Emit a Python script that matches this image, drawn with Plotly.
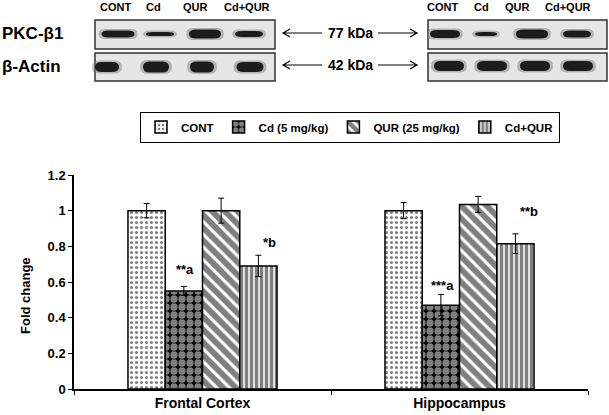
import plotly.graph_objects as go

# bar chart data
categories = ["Frontal Cortex", "Hippocampus"]
groups = ["CONT", "Cd (5 mg/kg)", "QUR (25 mg/kg)", "Cd+QUR"]
cont = [1.0, 1.0]
cd = [0.55, 0.47]
qur = [1.0, 1.035]
cd_qur = [0.69, 0.815]
cont_err = [0.04, 0.045]
cd_err = [0.025, 0.06]
qur_err = [0.07, 0.045]
cd_qur_err = [0.06, 0.055]
sig_labels = ["**a", "*b", "***a", "**b"]

# western blot panel
lanes = ["CONT", "Cd", "QUR", "Cd+QUR"]
pkc_left = [7, 4, 9, 6]      # band thickness as seen in blot
pkc_right = [8, 4, 9, 7]
actin_left = [10, 11, 11, 10]
actin_right = [10, 10, 10, 10]

W, H = 609, 415
FONT = "Liberation Sans, Arial, sans-serif"


def X(p):
    return p / W


def Y(p):
    return 1 - p / H


def band_path(cx, cy, w, h):
    x0, x1 = cx - w / 2, cx + w / 2
    y0, y1 = cy - h / 2, cy + h / 2
    r = min(7, w / 3)
    return (f"M {X(x0)},{Y(cy)} Q {X(x0)},{Y(y0)} {X(x0 + r)},{Y(y0)} "
            f"L {X(x1 - r)},{Y(y0)} Q {X(x1)},{Y(y0)} {X(x1)},{Y(cy)} "
            f"Q {X(x1)},{Y(y1)} {X(x1 - r)},{Y(y1)} L {X(x0 + r)},{Y(y1)} "
            f"Q {X(x0)},{Y(y1)} {X(x0)},{Y(cy)} Z")


def bold(size):
    return dict(size=size, family=FONT, color="black", weight="bold")


fig = go.Figure()

patterns = [
    dict(shape=".", size=5, solidity=0.3, fgcolor="black", bgcolor="white"),
    dict(shape=".", size=8, solidity=0.65, fgcolor="white", bgcolor="black"),
    dict(shape="\\", size=9, solidity=0.65, fgcolor="black", bgcolor="white"),
    dict(shape="|", size=5, solidity=0.7, fgcolor="black", bgcolor="white"),
]
series = [cont, cd, qur, cd_qur]
errors = [cont_err, cd_err, qur_err, cd_qur_err]

for name, vals, errs, pat in zip(groups, series, errors, patterns):
    fig.add_trace(go.Bar(
        x=categories, y=vals, name=name,
        marker=dict(color="white", pattern=pat, line=dict(color="black", width=1.5)),
        error_y=dict(type="data", array=errs, color="black", thickness=1, width=3),
    ))

annotations = []
# significance letters (x in category index units)
for txt, xv, yv in zip(sig_labels, [-0.07, 0.26, 0.935, 1.27], [0.67, 0.82, 0.58, 0.995]):
    annotations.append(dict(x=xv, y=yv, xref="x", yref="y", text=txt, showarrow=False,
                            xanchor="center", font=bold(13)))

annotations.append(dict(x=X(25), y=Y(296), xref="paper", yref="paper", text="Fold change",
                        textangle=-90, showarrow=False, xanchor="center", yanchor="middle",
                        font=bold(13)))

shapes = []
# blot frames
for bx0, bx1 in [(95, 275), (428, 607)]:
    for by0, by1 in [(20, 49), (53, 81)]:
        shapes.append(dict(type="rect", xref="paper", yref="paper",
                           x0=X(bx0), x1=X(bx1), y0=Y(by1), y1=Y(by0),
                           fillcolor="#e6e6e6", line=dict(color="#333333", width=1.5), layer="below"))

blots = [
    ([118, 160, 205, 249], 34, pkc_left, [33, 28, 32, 28]),
    ([107, 156, 202, 250], 67, actin_left, [24, 26, 24, 27]),
    ([445, 486, 532, 577], 34, pkc_right, [30, 22, 32, 28]),
    ([449, 492, 535, 578], 66, actin_right, [30, 30, 30, 30]),
]
for centers, cy, thick, widths in blots:
    for cx, h, w in zip(centers, thick, widths):
        shapes.append(dict(type="path", xref="paper", yref="paper", path=band_path(cx, cy, w + 6, h + 3),
                           fillcolor="#777777", line=dict(width=0), opacity=0.45))
        shapes.append(dict(type="path", xref="paper", yref="paper", path=band_path(cx, cy, w, h),
                           fillcolor="#1c1c1c", line=dict(width=0)))

# arrows
for ay in [33, 65]:
    shapes.append(dict(type="path", xref="paper", yref="paper",
                       path=f"M {X(322)},{Y(ay)} L {X(283)},{Y(ay)} M {X(290)},{Y(ay - 4)} "
                            f"L {X(283)},{Y(ay)} L {X(290)},{Y(ay + 4)}",
                       line=dict(color="black", width=1.2)))
    shapes.append(dict(type="path", xref="paper", yref="paper",
                       path=f"M {X(378)},{Y(ay)} L {X(417)},{Y(ay)} M {X(410)},{Y(ay - 4)} "
                            f"L {X(417)},{Y(ay)} L {X(410)},{Y(ay + 4)}",
                       line=dict(color="black", width=1.2)))

for txt, ay in [("77 kDa", 33), ("42 kDa", 65)]:
    annotations.append(dict(x=X(350), y=Y(ay), xref="paper", yref="paper", text=txt, showarrow=False,
                            xanchor="center", yanchor="middle", font=bold(14)))

for txt, ay in [("PKC-β1", 34), ("β-Actin", 66)]:
    annotations.append(dict(x=X(0), y=Y(ay), xref="paper", yref="paper", text=txt, showarrow=False,
                            xanchor="left", yanchor="middle", font=bold(17)))

for xs in [[115, 153, 195, 247], [442, 481, 517, 568]]:
    for txt, lx in zip(lanes, xs):
        annotations.append(dict(x=X(lx), y=Y(7), xref="paper", yref="paper", text=txt, showarrow=False,
                                xanchor="center", yanchor="middle", font=bold(11)))

fig.update_layout(
    width=W, height=H,
    margin=dict(l=0, r=0, t=0, b=0),
    paper_bgcolor="white", plot_bgcolor="white",
    barmode="group", bargap=0.42, bargroupgap=0,
    font=dict(family=FONT, color="black", size=13),
    showlegend=True,
    legend=dict(orientation="h", x=X(350), xanchor="center", y=Y(127), yanchor="middle",
                bordercolor="black", borderwidth=1, font=bold(11.5),
                itemwidth=30, tracegroupgap=0),
    xaxis=dict(domain=[X(74), X(588)], automargin=False, showline=True, linecolor="black", linewidth=1.5,
               ticks="outside", tickson="boundaries", ticklen=4, tickcolor="black",
               tickfont=bold(14), showgrid=False),
    yaxis=dict(domain=[Y(389), Y(175)], automargin=False, range=[0, 1.2], dtick=0.2,
               showline=True, linecolor="black", linewidth=1.5, ticks="outside", ticklen=4,
               tickcolor="black", tickfont=bold(13), showgrid=False, zeroline=False),
    annotations=annotations,
    shapes=shapes,
)

fig.write_html("out.html", config={"displayModeBar": False},
               post_script="document.body.style.margin='0';")
